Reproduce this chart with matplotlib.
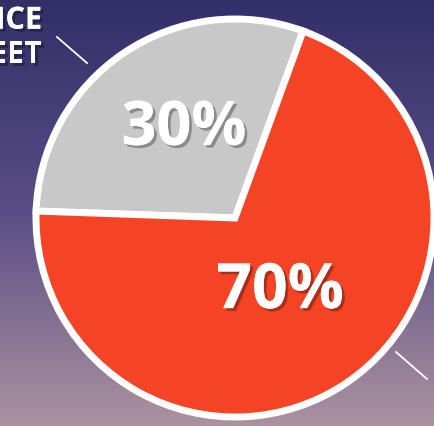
import numpy as np
import matplotlib
matplotlib.use("Agg")
import matplotlib.pyplot as plt
import matplotlib.patheffects as pe

# 数据
shares = [30, 70]
colors = ["#c8c8c8", "#f54325"]
pct_dist = [0.52, 0.43]
pct_turn = [-7, 1]  # 标签相对扇区中线的角度偏移
pct_size = [44, 45]
side_label = "ICE\nEET"

W, H = 434, 426
fig = plt.figure(figsize=(W / 100, H / 100), dpi=100)
ax = fig.add_axes([0, 0, 1, 1])

# 背景渐变
top = np.array([50, 47, 104]) / 255
mid = np.array([90, 78, 134]) / 255
bot = np.array([172, 146, 160]) / 255
t = np.linspace(0, 1, 256)[:, None]
grad = np.where(t < 0.5, top + (mid - top) * (t / 0.5), mid + (bot - mid) * ((t - 0.5) / 0.5))
ax.imshow(grad[:, None, :], extent=[0, W, 0, H], aspect="auto", origin="upper", zorder=0)

cx, cy, r = 235, H - 218, 199
wedges, _ = ax.pie(shares, colors=colors, startangle=70, counterclock=True,
                   center=(cx, cy), radius=r, frame=True,
                   wedgeprops=dict(edgecolor="white", linewidth=5))
ax.set_xlim(0, W)
ax.set_ylim(0, H)
ax.set_aspect("equal")
ax.axis("off")
for w in wedges:
    w.set_zorder(2)

shadow = [pe.withSimplePatchShadow(offset=(2, -2), shadow_rgbFace="black", alpha=0.3),
          pe.Normal()]
# 百分比标签
lx, ly = cx - 4, cy + 4
for w, v, d, a, s in zip(wedges, shares, pct_dist, pct_turn, pct_size):
    ang = np.deg2rad((w.theta1 + w.theta2) / 2 + a)
    ax.text(lx + d * r * np.cos(ang), ly + d * r * np.sin(ang), f"{v}%",
            ha="center", va="center_baseline", color="white", fontsize=s,
            fontweight="bold", family="Open Sans", path_effects=shadow, zorder=3)

# 引线
ax.plot([57, 87], [H - 37, H - 63], color="white", lw=1.3, zorder=1)
ax.plot([396, 427], [H - 352, H - 379], color="white", lw=1.3, zorder=1)

ax.text(42, H - 38, side_label, ha="right", va="center", color="white",
        fontsize=22, fontweight="bold", family="Open Sans", linespacing=1.2,
        path_effects=shadow, zorder=3)

fig.savefig("out.png", dpi=100)
